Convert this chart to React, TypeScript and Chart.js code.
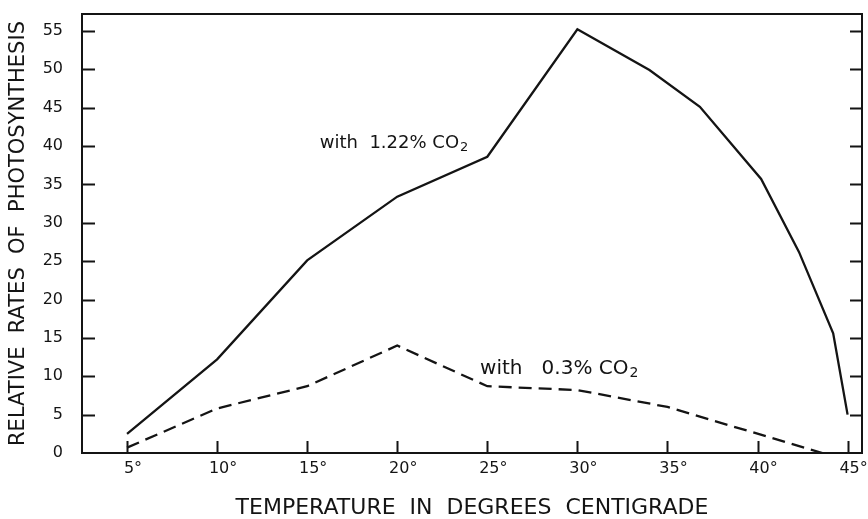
import React, { useEffect, useRef } from "react";
import { Chart, registerables } from "chart.js";

Chart.register(...registerables);

// ---- data ----
const SOLID_TEMPS = [5, 10, 15, 20, 25, 30, 34, 36.8, 40.2, 42.3, 44.2, 45];
const SOLID_RATES = [2.5, 12.2, 25.1, 33.4, 38.6, 55.2, 49.9, 45.1, 35.7, 26.2, 15.6, 5.0];
const DASHED_TEMPS = [5, 10, 15, 20, 25, 30, 35, 43.6];
const DASHED_RATES = [0.7, 5.8, 8.7, 14.0, 8.7, 8.2, 6.0, 0];

const X_TICKS = [5, 10, 15, 20, 25, 30, 35, 40, 45];
const Y_TICKS = [0, 5, 10, 15, 20, 25, 30, 35, 40, 45, 50, 55];
const X_TICK_LABELS = X_TICKS.map((v) => `${v}°`);

const SERIES_NAMES = ["with  1.22% CO", "with   0.3% CO"];
const SERIES_SUB = "2";
const X_TITLE = "TEMPERATURE  IN  DEGREES  CENTIGRADE";
const Y_TITLE = "RELATIVE  RATES  OF  PHOTOSYNTHESIS";

const INK = "#141414";
const FONT = '"DejaVu Sans", sans-serif';

const framePlugin = {
  id: "frameAndLabels",
  afterDraw(chart: any) {
    const { ctx, chartArea: a, scales } = chart;
    const x = scales.x;
    const y = scales.y;
    ctx.save();
    ctx.strokeStyle = INK;
    ctx.lineWidth = 2;
    ctx.strokeRect(a.left, a.top, a.right - a.left, a.bottom - a.top);
    ctx.beginPath();
    for (const v of X_TICKS) {
      const px = Math.round(x.getPixelForValue(v)) + 0.5;
      ctx.moveTo(px, a.bottom);
      ctx.lineTo(px, a.bottom - 12);
    }
    for (const v of Y_TICKS.slice(1)) {
      const py = Math.round(y.getPixelForValue(v)) + 0.5;
      ctx.moveTo(a.left, py);
      ctx.lineTo(a.left + 13, py);
      ctx.moveTo(a.right, py);
      ctx.lineTo(a.right - 12, py);
    }
    ctx.stroke();

    // series annotations
    const ann = chart.options.plugins.frameAndLabels.labels;
    ctx.fillStyle = INK;
    ctx.textBaseline = "middle";
    ctx.textAlign = "left";
    for (const l of ann) {
      const px = x.getPixelForValue(l.x);
      const py = y.getPixelForValue(l.y);
      ctx.font = `${l.size}px ${FONT}`;
      ctx.fillText(l.text, px, py);
      const w = ctx.measureText(l.text).width;
      ctx.font = `${Math.round(l.size * 0.72)}px ${FONT}`;
      ctx.fillText(SERIES_SUB, px + w + 1, py + 5);
    }
    ctx.restore();
  },
};

export default function App() {
  const ref = useRef<HTMLCanvasElement | null>(null);

  useEffect(() => {
    if (!ref.current) return;
    const solid = SOLID_TEMPS.map((t, i) => ({ x: t, y: SOLID_RATES[i] }));
    const dashed = DASHED_TEMPS.map((t, i) => ({ x: t, y: DASHED_RATES[i] }));

    const chart = new Chart(ref.current, {
      type: "line",
      data: {
        datasets: [
          {
            label: SERIES_NAMES[0] + SERIES_SUB,
            data: solid,
            borderColor: INK,
            borderWidth: 2.3,
            pointRadius: 0,
            tension: 0,
            fill: false,
          },
          {
            label: SERIES_NAMES[1] + SERIES_SUB,
            data: dashed,
            borderColor: INK,
            borderWidth: 2.3,
            borderDash: [13, 7],
            pointRadius: 0,
            tension: 0,
            fill: false,
          },
        ],
      },
      options: {
        responsive: false,
        animation: false,
        devicePixelRatio: 1,
        layout: { padding: { top: 14, right: 6, left: 0, bottom: 0 } },
        plugins: {
          legend: { display: false },
          tooltip: { enabled: false },
          frameAndLabels: {
            labels: [
              { text: SERIES_NAMES[0], x: 15.7, y: 40.4, size: 18 },
              { text: SERIES_NAMES[1], x: 24.6, y: 11.0, size: 20 },
            ],
          },
        } as any,
        scales: {
          x: {
            type: "linear",
            min: 2.5,
            max: 45.8,
            grid: { display: false, drawTicks: false },
            border: { display: false },
            afterBuildTicks: (s: any) => {
              s.ticks = X_TICKS.map((v) => ({ value: v }));
            },
            afterFit: (s: any) => {
              s.height = 66;
              s.paddingLeft = 0;
              s.paddingRight = 0;
            },
            ticks: {
              autoSkip: false,
              maxRotation: 0,
              padding: 6,
              labelOffset: 6,
              color: INK,
              font: { family: FONT, size: 16 },
              callback: (v: any) => {
                const i = X_TICKS.indexOf(Number(v));
                return i >= 0 ? X_TICK_LABELS[i] : "";
              },
            },
            title: {
              display: true,
              text: X_TITLE,
              color: INK,
              font: { family: FONT, size: 22, lineHeight: 1 },
              padding: { top: 0, bottom: 0 },
            },
          },
          y: {
            type: "linear",
            min: 0,
            max: 57.2,
            grid: { display: false, drawTicks: false },
            border: { display: false },
            afterBuildTicks: (s: any) => {
              s.ticks = Y_TICKS.map((v) => ({ value: v }));
            },
            afterFit: (s: any) => {
              s.width = 82;
              s.paddingTop = 0;
              s.paddingBottom = 0;
            },
            ticks: {
              autoSkip: false,
              padding: 19,
              color: INK,
              font: { family: FONT, size: 16 },
              callback: (v: any) => String(v),
            },
            title: {
              display: true,
              text: Y_TITLE,
              color: INK,
              font: { family: FONT, size: 21, lineHeight: 1 },
              padding: { top: 8, bottom: 0 },
            },
          },
        },
      },
      plugins: [framePlugin],
    });
    return () => chart.destroy();
  }, []);

  return (
    <div style={{ position: "fixed", left: 0, top: 0, width: 868, height: 519, background: "#fff" }}>
      <canvas ref={ref} width={868} height={519} style={{ display: "block" }} />
    </div>
  );
}
